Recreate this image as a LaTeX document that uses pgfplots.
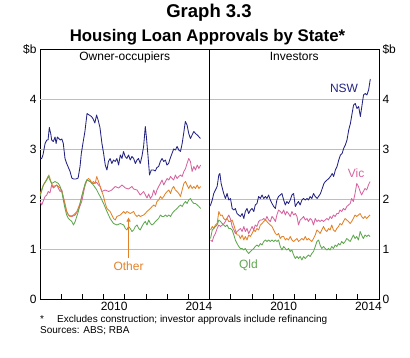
\documentclass[border=0pt]{standalone}
\usepackage{pgfplots}
\pgfplotsset{compat=1.18}
\usepackage{pgfplotstable}
\usetikzlibrary{arrows.meta}
\usepackage{fontspec}
\setmainfont{Liberation Sans}
\definecolor{nsw}{RGB}{35,35,130}
\definecolor{vic}{RGB}{214,99,160}
\definecolor{oth}{RGB}{226,130,40}
\definecolor{qld}{RGB}{95,168,80}
\definecolor{gridgray}{RGB}{190,190,190}
\newcommand\lab{\fontsize{12}{14}\selectfont}
\pgfplotsset{
  rbapanel/.style={
    scale only axis, width=169.5pt, height=250pt,
    xmin=2007, xmax=2015, ymin=0, ymax=5,
    ytick={0,1,2,3,4,5}, yticklabels={0,1,2,3,4,\$b},
    major tick length=0pt,
    extra y ticks={1,2,3,4}, extra y tick labels={},
    extra y tick style={grid=major, major grid style={gridgray, line width=0.6pt}},
    xtick={2010.5,2014.5}, xticklabels={2010,2014},
    minor xtick={2008,2009,...,2014},
    minor tick length=5pt, tick align=inside, xtick pos=lower,
    axis line style={line width=0.8pt},
    tick style={black, line width=0.6pt},
    ticklabel style={font=\lab},
    xticklabel style={yshift=0pt, inner sep=2.5pt},
    /pgf/number format/assume math mode=true,
    every axis plot/.append style={line width=0.85pt, mark=none, line join=round},
  }
}
\pgfplotstableread{
year vic oth qld
2007.05 1.18 1.38 1.21
2007.13 1.15 1.45 1.38
2007.20 1.25 1.41 1.41
2007.28 1.31 1.48 1.45
2007.36 1.41 1.51 1.48
2007.44 1.48 1.75 1.58
2007.52 1.45 1.67 1.55
2007.60 1.48 1.68 1.51
2007.67 1.50 1.61 1.48
2007.75 1.55 1.58 1.45
2007.83 1.62 1.61 1.48
2007.91 1.68 1.55 1.41
2007.99 1.60 1.55 1.41
2008.07 1.45 1.58 1.38
2008.15 1.38 1.48 1.28
2008.22 1.31 1.38 1.18
2008.30 1.35 1.28 1.11
2008.38 1.38 1.28 1.05
2008.46 1.41 1.21 1.01
2008.54 1.35 1.28 1.01
2008.62 1.45 1.18 0.98
2008.69 1.35 1.25 1.01
2008.77 1.41 1.18 0.95
2008.85 1.31 1.28 0.91
2008.93 1.38 1.25 0.95
2009.01 1.45 1.31 0.98
2009.09 1.38 1.38 1.01
2009.16 1.48 1.35 1.05
2009.24 1.45 1.41 1.08
2009.32 1.55 1.38 1.05
2009.40 1.58 1.48 1.11
2009.48 1.58 1.51 1.08
2009.56 1.61 1.55 1.15
2009.64 1.58 1.58 1.18
2009.71 1.65 1.55 1.15
2009.79 1.58 1.51 1.18
2009.87 1.55 1.48 1.15
2009.95 1.65 1.45 1.18
2010.03 1.61 1.38 1.15
2010.11 1.55 1.31 1.18
2010.18 1.68 1.28 1.15
2010.26 1.78 1.31 1.18
2010.34 1.75 1.21 1.05
2010.42 1.71 1.25 0.98
2010.50 1.78 1.25 1.05
2010.58 1.68 1.18 1.01
2010.65 1.75 1.21 0.98
2010.73 1.71 1.18 1.01
2010.81 1.65 1.25 0.95
2010.89 1.75 1.18 0.98
2010.97 1.68 1.15 0.88
2011.05 1.71 1.18 0.81
2011.13 1.65 1.21 0.85
2011.20 1.48 1.15 0.81
2011.28 1.58 1.18 0.85
2011.36 1.61 1.21 0.78
2011.44 1.65 1.18 0.85
2011.52 1.58 1.25 0.81
2011.60 1.61 1.18 0.85
2011.67 1.55 1.21 0.88
2011.75 1.61 1.18 0.85
2011.83 1.58 1.15 0.91
2011.91 1.48 1.21 0.95
2011.99 1.61 1.28 1.05
2012.07 1.55 1.38 1.15
2012.15 1.58 1.35 1.18
2012.22 1.55 1.31 1.08
2012.30 1.58 1.38 1.01
2012.38 1.55 1.45 1.05
2012.46 1.58 1.38 1.01
2012.54 1.61 1.35 0.98
2012.62 1.58 1.41 1.01
2012.69 1.65 1.38 0.98
2012.77 1.61 1.48 1.05
2012.85 1.68 1.38 1.01
2012.93 1.65 1.35 1.08
2013.01 1.71 1.41 1.05
2013.09 1.71 1.45 1.11
2013.16 1.78 1.51 1.08
2013.24 1.75 1.48 1.15
2013.32 1.81 1.55 1.11
2013.40 1.78 1.61 1.15
2013.48 1.85 1.58 1.21
2013.56 1.88 1.55 1.18
2013.64 1.91 1.51 1.15
2013.71 2.01 1.55 1.21
2013.79 1.95 1.61 1.28
2013.87 2.11 1.68 1.21
2013.95 2.31 1.65 1.25
2014.03 2.25 1.68 1.18
2014.11 2.15 1.71 1.35
2014.18 2.08 1.65 1.28
2014.26 2.15 1.61 1.21
2014.34 2.21 1.65 1.28
2014.42 2.18 1.61 1.25
2014.50 2.28 1.65 1.28
2014.58 2.35 1.68 1.25
}\invtable
\begin{document}
\begin{tikzpicture}
\useasboundingbox (0,0) rectangle (410pt,357pt);
\node[font=\bfseries\fontsize{18.5}{22}\selectfont, anchor=base, inner sep=0] at (209pt,339.5pt) {Graph 3.3};
\node[font=\bfseries\fontsize{16.8}{20}\selectfont, anchor=base, inner sep=0] at (207.5pt,315.3pt) {Housing Loan Approvals by State*};
\node[font=\fontsize{10}{12}\selectfont, anchor=base west, inner sep=0] at (40pt,35pt) {*};
\node[font=\fontsize{10}{12}\selectfont, anchor=base west, inner sep=0] at (57pt,35pt) {Excludes construction; investor approvals include refinancing};
\node[font=\fontsize{10}{12}\selectfont, anchor=base west, inner sep=0] at (40pt,24pt) {Sources: ABS; RBA};
% Left panel
\begin{axis}[rbapanel, at={(40pt,58pt)}, anchor=south west,
  ytick pos=left, yticklabel pos=left]
\addplot[nsw] coordinates {(2007.00,2.80)(2007.08,2.81)(2007.14,2.88)(2007.24,3.11)(2007.32,3.18)(2007.38,3.18)(2007.44,3.43)(2007.51,3.30)(2007.55,3.18)(2007.63,3.15)(2007.71,3.24)(2007.76,3.11)(2007.82,3.24)(2007.95,3.18)(2008.03,3.20)(2008.10,3.11)(2008.18,2.81)(2008.26,2.71)(2008.42,2.55)(2008.50,2.42)(2008.58,2.40)(2008.70,2.40)(2008.80,2.42)(2008.89,2.65)(2008.95,2.91)(2009.04,3.15)(2009.12,3.35)(2009.22,3.71)(2009.32,3.68)(2009.43,3.65)(2009.51,3.60)(2009.59,3.52)(2009.67,3.68)(2009.75,3.57)(2009.83,3.43)(2009.92,3.12)(2010.00,2.92)(2010.08,2.68)(2010.16,2.58)(2010.23,2.75)(2010.31,2.81)(2010.39,2.71)(2010.47,2.78)(2010.55,2.75)(2010.63,2.81)(2010.71,2.68)(2010.79,2.88)(2010.87,2.81)(2010.94,2.95)(2011.02,2.85)(2011.10,2.81)(2011.18,2.88)(2011.26,2.78)(2011.34,2.85)(2011.42,2.81)(2011.50,2.71)(2011.58,2.78)(2011.65,2.81)(2011.73,2.71)(2011.81,2.85)(2011.89,3.05)(2011.97,3.45)(2012.02,3.25)(2012.10,2.85)(2012.17,2.48)(2012.25,2.58)(2012.36,2.58)(2012.44,2.56)(2012.52,2.63)(2012.60,2.65)(2012.68,2.75)(2012.76,2.81)(2012.84,2.75)(2012.92,2.78)(2012.99,2.68)(2013.07,2.71)(2013.15,2.82)(2013.23,2.91)(2013.31,3.00)(2013.39,2.98)(2013.47,3.05)(2013.55,2.98)(2013.63,2.95)(2013.71,3.11)(2013.78,3.31)(2013.86,3.55)(2013.94,3.48)(2014.02,3.31)(2014.10,3.21)(2014.18,3.28)(2014.26,3.35)(2014.34,3.31)(2014.42,3.28)(2014.49,3.25)(2014.57,3.21)};
\addplot[vic] coordinates {(2007.00,1.95)(2007.08,1.88)(2007.24,2.05)(2007.32,2.08)(2007.39,2.15)(2007.47,2.12)(2007.55,2.28)(2007.63,2.22)(2007.79,2.28)(2007.95,2.15)(2008.03,2.18)(2008.18,1.88)(2008.26,1.75)(2008.34,1.68)(2008.50,1.65)(2008.66,1.68)(2008.81,1.78)(2008.97,1.95)(2009.13,2.28)(2009.21,2.38)(2009.37,2.35)(2009.52,2.31)(2009.68,2.33)(2009.76,2.28)(2009.84,2.25)(2009.92,2.15)(2010.08,2.18)(2010.24,2.15)(2010.39,2.18)(2010.55,2.25)(2010.71,2.22)(2010.87,2.28)(2011.03,2.22)(2011.18,2.20)(2011.34,2.25)(2011.42,2.20)(2011.58,2.18)(2011.73,2.08)(2011.89,2.15)(2012.05,2.02)(2012.13,2.10)(2012.21,2.01)(2012.29,2.06)(2012.37,2.18)(2012.45,2.08)(2012.52,2.18)(2012.60,2.25)(2012.68,2.31)(2012.76,2.38)(2012.84,2.28)(2012.92,2.35)(2013.00,2.41)(2013.08,2.38)(2013.16,2.45)(2013.24,2.41)(2013.31,2.38)(2013.39,2.48)(2013.47,2.41)(2013.55,2.45)(2013.63,2.48)(2013.71,2.45)(2013.79,2.55)(2013.87,2.61)(2013.94,2.71)(2014.02,2.81)(2014.10,2.75)(2014.18,2.55)(2014.26,2.65)(2014.34,2.58)(2014.42,2.68)(2014.50,2.61)(2014.58,2.68)};
\addplot[oth] coordinates {(2007.00,2.10)(2007.16,2.28)(2007.32,2.40)(2007.42,2.48)(2007.55,2.30)(2007.63,2.25)(2007.79,2.28)(2007.95,2.22)(2008.03,2.15)(2008.18,1.91)(2008.26,1.75)(2008.34,1.68)(2008.42,1.65)(2008.58,1.68)(2008.74,1.75)(2008.89,1.91)(2009.05,2.18)(2009.21,2.38)(2009.29,2.41)(2009.37,2.38)(2009.45,2.31)(2009.52,2.35)(2009.60,2.31)(2009.68,2.45)(2009.76,2.35)(2009.84,2.25)(2009.92,2.15)(2010.00,2.05)(2010.08,1.91)(2010.16,1.81)(2010.31,1.75)(2010.47,1.61)(2010.55,1.58)(2010.63,1.65)(2010.79,1.68)(2010.95,1.75)(2011.03,1.71)(2011.10,1.75)(2011.26,1.71)(2011.42,1.75)(2011.50,1.68)(2011.58,1.65)(2011.66,1.68)(2011.73,1.65)(2011.89,1.68)(2011.97,1.71)(2012.05,1.75)(2012.21,1.81)(2012.29,1.85)(2012.37,1.88)(2012.45,1.85)(2012.52,1.95)(2012.60,1.98)(2012.68,2.05)(2012.76,2.01)(2012.84,2.05)(2012.92,2.11)(2013.00,2.15)(2013.08,2.18)(2013.16,2.11)(2013.24,2.21)(2013.31,2.25)(2013.39,2.18)(2013.47,2.15)(2013.55,2.11)(2013.63,2.05)(2013.71,2.18)(2013.79,2.31)(2013.87,2.35)(2013.94,2.28)(2014.02,2.21)(2014.10,2.28)(2014.18,2.21)(2014.26,2.25)(2014.34,2.21)(2014.42,2.28)(2014.50,2.21)(2014.58,2.25)};
\addplot[qld] coordinates {(2007.00,2.05)(2007.16,2.28)(2007.32,2.38)(2007.39,2.45)(2007.47,2.38)(2007.55,2.31)(2007.71,2.35)(2007.87,2.31)(2007.95,2.25)(2008.03,2.15)(2008.10,1.98)(2008.18,1.81)(2008.26,1.68)(2008.34,1.61)(2008.50,1.55)(2008.58,1.48)(2008.66,1.55)(2008.81,1.75)(2008.89,1.91)(2008.97,2.05)(2009.05,2.18)(2009.13,2.31)(2009.21,2.38)(2009.37,2.35)(2009.45,2.31)(2009.52,2.28)(2009.68,2.18)(2009.76,2.11)(2009.84,2.05)(2010.00,1.91)(2010.16,1.75)(2010.31,1.61)(2010.47,1.51)(2010.63,1.48)(2010.79,1.51)(2010.95,1.48)(2011.03,1.41)(2011.10,1.38)(2011.18,1.45)(2011.26,1.41)(2011.34,1.35)(2011.42,1.38)(2011.50,1.45)(2011.58,1.48)(2011.66,1.41)(2011.73,1.38)(2011.81,1.45)(2011.89,1.51)(2011.97,1.55)(2012.05,1.48)(2012.13,1.58)(2012.21,1.51)(2012.29,1.48)(2012.37,1.51)(2012.45,1.55)(2012.52,1.58)(2012.60,1.61)(2012.68,1.68)(2012.76,1.65)(2012.84,1.65)(2012.92,1.68)(2013.00,1.65)(2013.08,1.68)(2013.16,1.65)(2013.24,1.71)(2013.31,1.75)(2013.39,1.78)(2013.47,1.81)(2013.55,1.85)(2013.63,1.88)(2013.71,1.85)(2013.79,1.91)(2013.87,1.95)(2013.94,1.91)(2014.02,1.98)(2014.10,2.01)(2014.18,1.95)(2014.26,1.91)(2014.34,1.91)(2014.42,1.88)(2014.50,1.85)(2014.58,1.81)};
\node[font=\lab, anchor=north, inner sep=0pt, yshift=-3pt] at (rel axis cs:0.5,1) {Owner-occupiers};
\node[font=\lab, text=oth] at (axis cs:2011.18,0.65) {Other};
\draw[oth, line width=0.8pt, -{Triangle[width=4pt,length=4pt]}] (axis cs:2011.18,0.82) -- (axis cs:2011.18,1.63);
\end{axis}
% Right panel
\begin{axis}[rbapanel, at={(209.5pt,58pt)}, anchor=south west,
  ytick pos=right, yticklabel pos=right]
\addplot[nsw] coordinates {(2007.00,1.85)(2007.05,1.88)(2007.13,1.98)(2007.20,2.11)(2007.28,2.18)(2007.36,2.25)(2007.44,2.48)(2007.49,2.51)(2007.55,2.31)(2007.61,2.21)(2007.67,2.11)(2007.75,2.01)(2007.83,2.11)(2007.91,1.98)(2007.99,2.01)(2008.07,1.81)(2008.15,1.78)(2008.22,1.81)(2008.30,1.71)(2008.38,1.68)(2008.46,1.65)(2008.54,1.71)(2008.62,1.61)(2008.69,1.75)(2008.77,1.81)(2008.85,1.71)(2008.93,1.78)(2009.01,1.81)(2009.09,1.75)(2009.16,1.88)(2009.24,1.91)(2009.32,2.05)(2009.40,2.01)(2009.48,2.08)(2009.56,2.01)(2009.64,2.05)(2009.71,2.01)(2009.79,2.08)(2009.87,1.98)(2009.95,1.91)(2010.03,1.85)(2010.11,1.81)(2010.18,1.98)(2010.26,2.05)(2010.34,2.08)(2010.42,2.11)(2010.50,1.98)(2010.58,1.88)(2010.65,1.95)(2010.73,1.91)(2010.81,1.98)(2010.89,2.08)(2010.97,2.11)(2011.05,1.85)(2011.13,1.91)(2011.20,1.95)(2011.28,1.88)(2011.36,1.98)(2011.44,2.01)(2011.52,1.98)(2011.60,2.01)(2011.67,1.98)(2011.75,2.05)(2011.83,2.01)(2011.91,2.11)(2011.99,2.05)(2012.08,2.01)(2012.24,2.11)(2012.32,2.21)(2012.40,2.31)(2012.47,2.35)(2012.55,2.38)(2012.63,2.41)(2012.71,2.45)(2012.79,2.51)(2012.86,2.45)(2012.94,2.58)(2013.02,2.65)(2013.10,2.78)(2013.18,2.88)(2013.26,2.91)(2013.33,3.01)(2013.41,3.08)(2013.49,3.18)(2013.57,3.38)(2013.65,3.51)(2013.73,3.71)(2013.80,3.88)(2013.88,3.91)(2013.96,3.81)(2014.04,3.85)(2014.12,3.65)(2014.20,3.88)(2014.27,4.08)(2014.35,4.11)(2014.43,4.08)(2014.51,4.18)(2014.59,4.40)};
\addplot[vic] table[x=year, y=vic] {\invtable};
\addplot[oth] table[x=year, y=oth] {\invtable};
\addplot[qld] table[x=year, y=qld] {\invtable};
\node[font=\lab, anchor=north, inner sep=0pt, yshift=-3pt] at (rel axis cs:0.5,1) {Investors};
\node[font=\lab, text=nsw] at (axis cs:2013.35,4.22) {NSW};
\node[font=\lab, text=vic] at (axis cs:2013.92,2.52) {Vic};
\node[font=\lab, text=qld] at (axis cs:2008.84,0.68) {Qld};
\end{axis}
\end{tikzpicture}
\end{document}
